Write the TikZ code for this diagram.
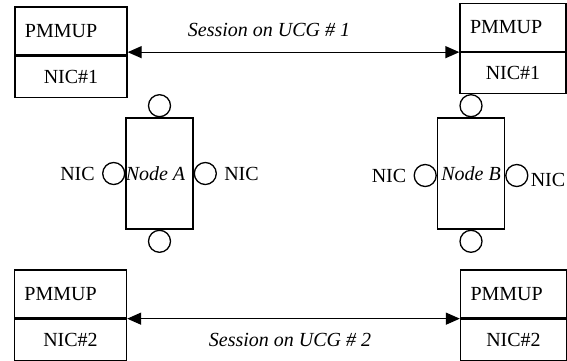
\documentclass[tikz,border=0pt]{standalone}
\usepackage{fontspec}
\setmainfont{Liberation Serif}
\usetikzlibrary{arrows.meta,positioning}

\begin{document}
\begin{tikzpicture}[x=0.5pt,y=-0.5pt,line width=0.65pt,>={Triangle[length=7pt,width=6pt]},
  upcell/.style={draw,text width=#1,align=left,inner xsep=5pt,minimum height=24pt},upcell/.default=46pt,
  lowcell/.style={draw,minimum width=#1,minimum height=20.5pt,inner sep=0pt},lowcell/.default=56pt,
  nodebox/.style={draw,minimum width=33.5pt,minimum height=55.5pt,inner sep=0pt,font=\itshape},
  port/.style={draw,circle,minimum size=11pt,inner sep=0pt},
  lbl/.style={font=\itshape}]
\useasboundingbox (0,0) rectangle (567,360);
% PMMUP boxes
\node[upcell] (pl) at (71,31) {PMMUP};
\node[lowcell,below=0pt of pl] (nl) {NIC\#1};
\node[upcell=43pt] (pr) at (513,27.5) {PMMUP};
\node[lowcell=53pt,below=0pt of pr] (nr) {NIC\#1};
\node[upcell] (ql) at (70.5,294) {PMMUP};
\node[lowcell,below=0pt of ql] (ml) {NIC\#2};
\node[upcell=43pt] (qr) at (513.5,294) {PMMUP};
\node[lowcell=53pt,below=0pt of qr] (mr) {NIC\#2};
\draw[<->] (pl.east |- pr.south west) -- (pr.south west);
\draw[<->] (ql.south east) -- (qr.south west);
\node[lbl] (s1) at (269,30) {Session on UCG \# 1};
\node[lbl] (s2) at (290,340) {Session on UCG \# 2};
% nodes with their NICs
\node[nodebox] (a) at (159.5,173.5) {\hspace{-4pt}Node A};
\node[port,above=0pt of a] (at) {};
\node[port,below=0pt of a] (ab) {};
\node[port,left=0pt of a] (al) {};
\node[port,right=0pt of a] (ar) {};
\node[left=0pt of al] {NIC};
\node[right=0pt of ar] {NIC};
\node[nodebox] (b) at (471,173.5) {Node B};
\node[port,above=0pt of b] (bt) {};
\node[port,below=0pt of b] (bb) {};
\node[port,left=0pt of b,yshift=-1pt] (bl) {};
\node[port,right=0pt of b,yshift=-1pt] (br) {};
\node[left=0pt of bl] {NIC};
\node[right=-2.5pt of br,yshift=-2pt] {NIC};
\end{tikzpicture}
\end{document}
